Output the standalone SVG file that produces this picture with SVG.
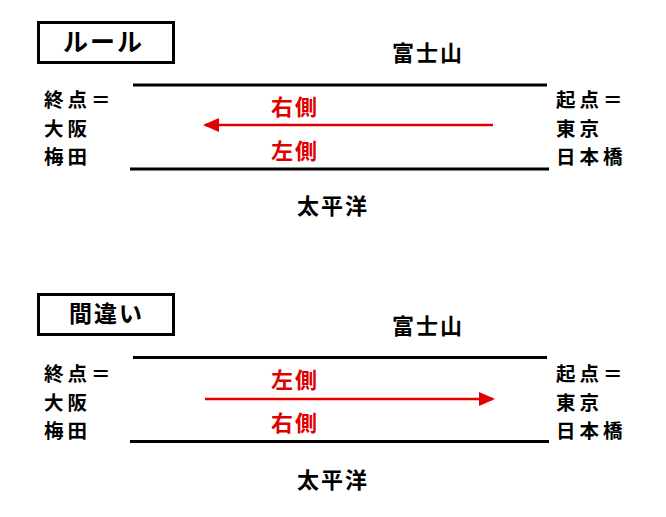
<svg xmlns="http://www.w3.org/2000/svg" width="666" height="517" viewBox="0 0 666 517">
<defs>
<style>
.t{font-family:"Noto Sans CJK JP","Noto Sans CJK SC",sans-serif;font-weight:bold;font-size:22px;letter-spacing:2px;fill:#000}
.s{font-size:19.5px;letter-spacing:4px}
.r{fill:#e00000}
.box{fill:#fff;stroke:#000;stroke-width:3}
.ln{stroke:#000;stroke-width:3}
.ar{stroke:#e00000;stroke-width:2.5;fill:none}
</style>
<marker id="ah" markerWidth="16" markerHeight="14" refX="14" refY="7" orient="auto" markerUnits="userSpaceOnUse">
<path d="M0,0 L16,7 L0,14 Z" fill="#e00000"/>
</marker>
</defs>
<rect width="666" height="517" fill="#fff"/>

<g id="rule-section">
<g id="rule-label"><rect class="box" x="38.5" y="22.5" width="135" height="40"/><text class="t" x="63" y="51" style="font-size:25px">ルール</text></g>
<g id="fuji1"><text class="t" x="392" y="61">富士山</text></g>
<g id="end1"><text class="t s"><tspan x="44" y="107">終点＝</tspan><tspan x="44" y="135.5">大阪</tspan><tspan x="44" y="164">梅田</tspan></text></g>
<g id="start1"><text class="t s"><tspan x="556" y="107">起点＝</tspan><tspan x="556" y="135.5">東京</tspan><tspan x="556" y="164">日本橋</tspan></text></g>
<g id="right1"><text class="t r" x="271" y="115">右側</text></g>
<g id="left1"><text class="t r" x="271" y="159">左側</text></g>
<g id="pacific1"><text class="t" x="297" y="214">太平洋</text></g>
</g>

<g id="wrong-section">
<g id="wrong-label"><rect class="box" x="38.5" y="294.5" width="135" height="40"/><text class="t" x="69" y="322" style="font-size:23px">間違い</text></g>
<g id="fuji2"><text class="t" x="392" y="334">富士山</text></g>
<g id="end2"><text class="t s"><tspan x="44" y="381">終点＝</tspan><tspan x="44" y="409.5">大阪</tspan><tspan x="44" y="438">梅田</tspan></text></g>
<g id="start2"><text class="t s"><tspan x="556" y="381">起点＝</tspan><tspan x="556" y="409.5">東京</tspan><tspan x="556" y="438">日本橋</tspan></text></g>
<g id="left2"><text class="t r" x="271" y="388">左側</text></g>
<g id="right2"><text class="t r" x="271" y="431">右側</text></g>
<g id="pacific2"><text class="t" x="297" y="488">太平洋</text></g>
</g>

<g id="connectors">
<line class="ln" x1="133" y1="85" x2="547" y2="85"/>
<line class="ln" x1="130" y1="169" x2="549" y2="169"/>
<line class="ar" x1="493" y1="125" x2="205" y2="125" marker-end="url(#ah)"/>
<line class="ln" x1="133" y1="357.5" x2="547" y2="357.5"/>
<line class="ln" x1="130" y1="441.5" x2="549" y2="441.5"/>
<line class="ar" x1="205" y1="399" x2="493" y2="399" marker-end="url(#ah)"/>
</g>
</svg>
